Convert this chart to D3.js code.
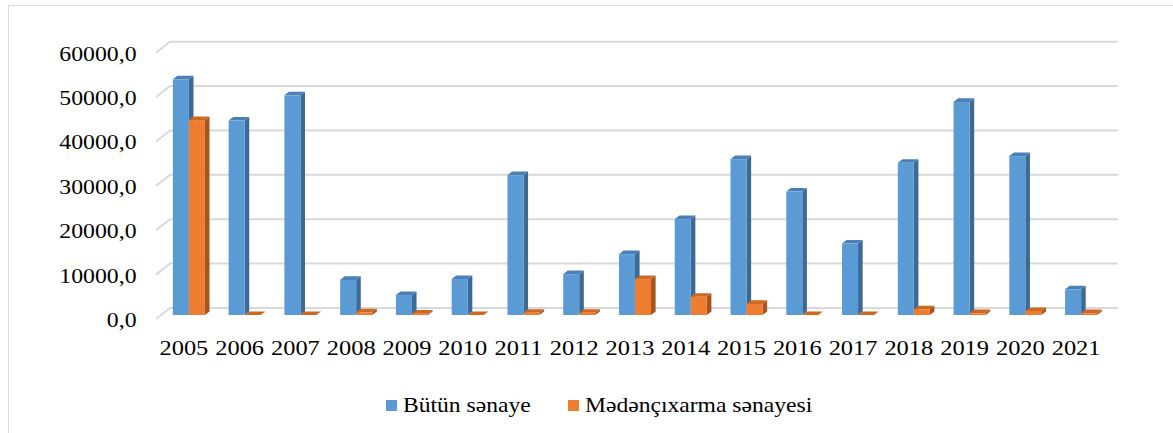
<!DOCTYPE html>
<html lang="az">
<head>
  <meta charset="UTF-8">
  <title>Sənaye</title>
  <script src="https://d3js.org/d3.v7.min.js"></script>
  <style>
    body { margin: 0; background: #fff; }
    text { font-family: "Liberation Serif", "Times New Roman", serif; fill: #000; }
  </style>
</head>
<body>
  <div id="chart"></div>
  <script>
    const years = ["2005","2006","2007","2008","2009","2010","2011","2012","2013","2014","2015","2016","2017","2018","2019","2020","2021"];
    const seriesNames = ["Bütün sənaye", "Mədənçıxarma sənayesi"];
    const butunSenaye = [53100, 43800, 49500, 7900, 4500, 8100, 31500, 9200, 13700, 21600, 35100, 27800, 16100, 34300, 48000, 35800, 5800];
    const medenSenaye = [43900, 0, 0, 600, 300, 0, 500, 500, 8100, 4100, 2500, 0, 0, 1300, 400, 900, 400];
    const yTicks = [0, 10000, 20000, 30000, 40000, 50000, 60000];

    const W = 1173, H = 433;
    const wall = {left: 170, right: 1118};
    const depth = {dx: 14, dy: 11};      // floor depth of the 3d box
    const barDepth = {dx: 9, dy: 7};     // bars sit inside the box
    const face = {dx: 4.6, dy: 3.6};     // bar thickness

    const colors = [
      {front: "#5b9bd5", side: "#3b6a97", top: "#4a80b6"},
      {front: "#ed7d31", side: "#a9541c", top: "#cf6820"}
    ];

    const svg = d3.select("#chart").append("svg")
      .attr("width", W).attr("height", H);

    // frame
    svg.append("rect")
      .attr("x", 8.5).attr("y", 5.5)
      .attr("width", 1300).attr("height", 600)
      .attr("fill", "none").attr("stroke", "#d9d9d9");

    const y = d3.scaleLinear().domain([0, 60000]).range([308, 41.7]);

    const x0 = d3.scaleBand().domain(years).range([wall.left, wall.right]);
    const x1 = d3.scaleBand().domain([0, 1]).range([0, x0.bandwidth()]).paddingOuter(0.74);

    // gridlines on the back wall + floor diagonals
    const grid = svg.append("g");
    yTicks.forEach(v => {
      grid.append("line")
        .attr("x1", wall.left).attr("x2", wall.right)
        .attr("y1", y(v)).attr("y2", y(v))
        .attr("stroke", "#d9d9d9").attr("stroke-width", 2);
      grid.append("line")
        .attr("x1", wall.left - depth.dx).attr("y1", y(v) + depth.dy)
        .attr("x2", wall.left).attr("y2", y(v))
        .attr("stroke", "#d9d9d9").attr("stroke-width", 2);
    });

    // y labels
    svg.append("g").selectAll("text")
      .data(yTicks).enter().append("text")
      .attr("text-anchor", "end")
      .attr("transform", d => `translate(136.5,${y(d) + depth.dy + 8}) scale(1.08,1)`)
      .style("font-size", "22px")
      .text(d => d3.format(".1f")(d).replace(".", ","));

    // bars
    const bars = svg.append("g");
    const data = [butunSenaye, medenSenaye];
    years.forEach((yr, i) => {
      [0, 1].forEach(s => {
        const v = data[s][i];
        const bx = x0(yr) + x1(s) - barDepth.dx;
        const bw = x1.bandwidth();
        const base = y(0) + barDepth.dy;
        const top = y(v) + barDepth.dy;
        const c = colors[s];
        bars.append("path")
          .attr("d", `M${bx + bw},${top} L${bx + bw + face.dx},${top - face.dy} L${bx + bw + face.dx},${base - face.dy} L${bx + bw},${base} Z`)
          .attr("fill", c.side);
        bars.append("path")
          .attr("d", `M${bx},${top} L${bx + face.dx},${top - face.dy} L${bx + bw + face.dx},${top - face.dy} L${bx + bw},${top} Z`)
          .attr("fill", c.top);
        bars.append("rect")
          .attr("x", bx).attr("y", top)
          .attr("width", bw).attr("height", base - top)
          .attr("fill", c.front);
      });
    });

    // year labels
    svg.append("g").selectAll("text")
      .data(years).enter().append("text")
      .attr("text-anchor", "middle")
      .attr("transform", d => `translate(${x0(d) + x0.bandwidth() / 2 - depth.dx},355) scale(1.11,1)`)
      .style("font-size", "22px")
      .text(d => d);

    // legend
    const legendX = [386, 568];
    const legend = svg.append("g");
    seriesNames.forEach((name, s) => {
      legend.append("rect")
        .attr("x", legendX[s]).attr("y", 400)
        .attr("width", 11).attr("height", 11)
        .attr("fill", colors[s].front);
      legend.append("text")
        .attr("transform", `translate(${legendX[s] + 17},411.5) scale(1.18,1)`)
        .style("font-size", "20px")
        .text(name);
    });
  </script>
</body>
</html>
